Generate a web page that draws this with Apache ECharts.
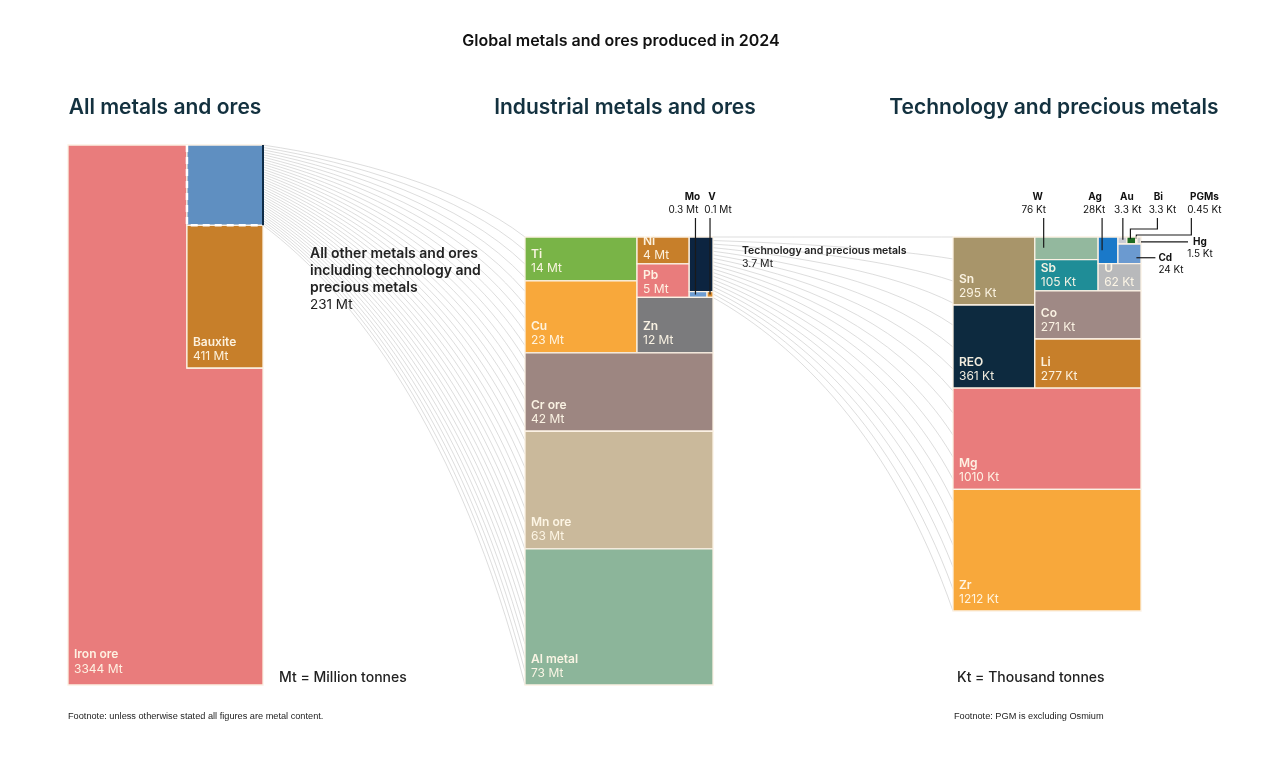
<!DOCTYPE html>
<html><head><meta charset="utf-8">
<script src="https://cdn.jsdelivr.net/npm/echarts/dist/echarts.min.js"></script>
<style>html,body{margin:0;background:#fff}#c{width:1263px;height:777px}</style>
</head><body><div id="c"></div>
<script>
// ---------------- DATA ----------------
const chartTitle = 'Global metals and ores produced in 2024';
const panelTitles = ['All metals and ores', 'Industrial metals and ores', 'Technology and precious metals'];

const allNames  = ['Iron ore', 'Bauxite', 'Other'];
const allValues = [3344, 411, 231];
const allUnit = 'Mt';

const indNames  = ['Ti', 'Cu', 'Ni', 'Pb', 'Zn', 'Cr ore', 'Mn ore', 'Al metal', 'Tech', 'Mo', 'V'];
const indValues = [14, 23, 4, 5, 12, 42, 63, 73, 3.7, 0.3, 0.1];
const indUnit = 'Mt';

const techNames  = ['Sn', 'REO', 'W', 'Sb', 'Ag', 'Au', 'Bi', 'PGMs', 'Hg', 'Cd', 'U', 'Co', 'Li', 'Mg', 'Zr'];
const techValues = [295, 361, 76, 105, 28, 3.3, 3.3, 0.45, 1.5, 24, 62, 271, 277, 1010, 1212];
const techUnit = 'Kt';

const otherLabel = ['All other metals and ores', 'including technology and', 'precious metals'];
const otherValueText = '231 Mt';
const techLabel = 'Technology and precious metals';
const techValueText = '3.7 Mt';
const unitNotes = ['Mt = Million tonnes', 'Kt = Thousand tonnes'];
const footnotes = ['Footnote: unless otherwise stated all figures are metal content.', 'Footnote: PGM is excluding Osmium'];

// ---------------- STYLE / LAYOUT ----------------
const FONT = 'Inter, "Noto Sans", sans-serif';
const colors = {
  'Iron ore':'#e97c7c', 'Bauxite':'#c77f2a', 'Other':'#5f8fc1',
  'Ti':'#79b447', 'Cu':'#f8a83b', 'Ni':'#c77f2a', 'Pb':'#e97c7c', 'Zn':'#7b7b7d',
  'Cr ore':'#9d8681', 'Mn ore':'#cab99b', 'Al metal':'#8cb59a', 'Tech':'#0c2440', 'Mo':'#6d9cd2', 'V':'#d98b2e',
  'Sn':'#a8956a', 'REO':'#0d2a3f', 'W':'#93b89e', 'Sb':'#1f8d97', 'Ag':'#1a79c9', 'Au':'#c9ccd4', 'Bi':'#1d6b22',
  'PGMs':'#dcc48a', 'Hg':'#d0d0d0', 'Cd':'#6b9ad0', 'U':'#b8b9bb', 'Co':'#9f8985', 'Li':'#c77f2a', 'Mg':'#e97c7c', 'Zr':'#f8a83b'
};
const noInnerLabel = new Set(['Other','Tech','Mo','V','W','Ag','Au','Bi','PGMs','Hg','Cd']);
const grids = [
  {left:68, top:145, width:195, height:540},
  {left:525, top:237, width:188, height:448},
  {left:953, top:237, width:188, height:374}
];
const layoutInd = {d:'v', c:[
  {d:'h', c:[ {d:'v', c:['Ti','Cu']},
              {d:'v', c:[ {d:'h', c:[ {d:'v', c:['Ni','Pb']}, {d:'v', c:['Tech', {d:'h', c:['Mo','V']}]} ]}, 'Zn' ]} ]},
  'Cr ore', 'Mn ore', 'Al metal']};
const layoutTech = {d:'v', c:[
  {d:'h', c:[ {d:'v', c:['Sn','REO']},
              {d:'v', c:[ {d:'h', c:[ {d:'v', c:['W','Sb']},
                                       {d:'v', c:[ {d:'h', c:['Ag', {d:'v', c:[ {d:'h', c:['Au','Bi','PGMs','Hg']}, 'Cd' ]} ]}, 'U' ]} ]},
                          'Co', 'Li' ]} ]},
  'Mg', 'Zr']};
const callouts = {
  'Mo':  {type:'up', fx:0.35, fy:0.5, nameDx:-3, valDx:-12},
  'V':   {type:'up', fx:0.5, fy:0.5, nameDx:2, valDx:8},
  'W':   {type:'up', fx:0.14, fy:0.48, nameDx:-6, valDx:-10},
  'Ag':  {type:'up', fx:0.2, fy:0.5, nameDx:-7, valDx:-8, noSpace:true},
  'Au':  {type:'up', fx:0.55, fy:0.4, nameDx:4, valDx:5},
  'Bi':  {type:'elbow', fx:0.4, fy:0.3, elbowDy:-8, lineDx:27, nameDx:1, valDx:5},
  'PGMs':{type:'elbow', fx:0.5, fy:0.3, elbowDy:-2, lineDx:55, nameDx:13, valDx:13},
  'Hg':  {type:'right', fx:1, fy:0.7, len:47, dx:12, align:'center'},
  'Cd':  {type:'right', fx:0.8, fy:0.7, len:19, dx:3, align:'left'}
};

// ---------------- LAYOUT ENGINE ----------------
function toMap(names, vals){ const m = {}; names.forEach((n,i)=>m[n]=vals[i]); return m; }
function sumNode(n, val){ return typeof n === 'string' ? val[n] : n.c.reduce((s,c)=>s+sumNode(c,val),0); }
function rectItem(name, value, unit, x0,y0,x1,y1){
  return {name, value, unit, box:[x0,y0,x1,y1], poly:[[x0,y0],[x1,y0],[x1,y1],[x0,y1]]};
}
function layoutNode(n, val, unit, x0,y0,x1,y1, out){
  if (typeof n === 'string'){ out.push(rectItem(n, val[n], unit, x0,y0,x1,y1)); return; }
  const tot = sumNode(n, val); let p = n.d === 'h' ? x0 : y0;
  n.c.forEach(c=>{
    const f = sumNode(c, val)/tot;
    if (n.d === 'h'){ const w = (x1-x0)*f; layoutNode(c,val,unit,p,y0,p+w,y1,out); p += w; }
    else { const h = (y1-y0)*f; layoutNode(c,val,unit,x0,p,x1,p+h,out); p += h; }
  });
}

// panel 1: iron ore is an L-shape, the right strip holds "other" and bauxite
const allVal = toMap(allNames, allValues);
const T0 = allValues.reduce((a,b)=>a+b,0);
const colW = 0.39;
const yO = allVal['Other']/(T0*colW);
const yB = yO + allVal['Bauxite']/(T0*colW);
const items0 = [
  {name:'Iron ore', value:allVal['Iron ore'], unit:allUnit, box:[0,0,1,1], poly:[[0,0],[1-colW,0],[1-colW,yB],[1,yB],[1,1],[0,1]]},
  rectItem('Bauxite', allVal['Bauxite'], allUnit, 1-colW, yO, 1, yB),
  rectItem('Other', allVal['Other'], allUnit, 1-colW, 0, 1, yO)
];
const items1 = []; layoutNode(layoutInd, toMap(indNames, indValues), indUnit, 0,0,1,1, items1);
const items2 = []; layoutNode(layoutTech, toMap(techNames, techValues), techUnit, 0,0,1,1, items2);
const panels = [items0, items1, items2];

// ---------------- RENDER ----------------
function makeRender(items, gridIdx){
  const gTop = grids[gridIdx].top;
  return function(params, api){
    const it = items[params.dataIndex];
    const pts = it.poly.map(p=>api.coord(p));
    const ch = [{type:'polygon', shape:{points:pts}, style:{fill:colors[it.name], stroke:'#fbf1e4', lineWidth:1.3}}];
    const tl = api.coord([it.box[0], it.box[1]]), br = api.coord([it.box[2], it.box[3]]);
    const w = br[0]-tl[0], h = br[1]-tl[1];
    if (it.name === 'Other'){
      ch.push({type:'polyline', shape:{points:[[tl[0],tl[1]],[tl[0],br[1]],[br[0],br[1]]]}, style:{stroke:'#ffffff', lineWidth:2.5, lineDash:[7,5], fill:null}});
      ch.push({type:'line', shape:{x1:br[0], y1:tl[1], x2:br[0], y2:br[1]}, style:{stroke:'#0d2a45', lineWidth:2}});
    }
    if (!noInnerLabel.has(it.name)){
      const tc = 'rgba(255,248,232,0.95)';
      const off = h > 300 ? [31,16] : (h > 40 ? [26,12] : [22,8]);
      ch.push({type:'text', style:{text:it.name, x:tl[0]+6, y:br[1]-off[0], font:'600 12px '+FONT, fill:tc, verticalAlign:'middle', align:'left'}});
      ch.push({type:'text', style:{text:it.value+' '+it.unit, x:tl[0]+6, y:br[1]-off[1], font:'400 12px '+FONT, fill:tc, verticalAlign:'middle', align:'left'}});
    }
    const co = callouts[it.name];
    if (co){
      const ax = tl[0]+w*co.fx, ay = tl[1]+h*co.fy;
      const lst = {stroke:'#1a1a1a', lineWidth:1.2, fill:null};
      const valTxt = it.value + (co.noSpace ? '' : ' ') + it.unit;
      if (co.type === 'up' || co.type === 'elbow'){
        let lx = ax, pts2;
        if (co.type === 'up') pts2 = [[ax,ay],[ax,gTop-19]];
        else { lx = ax+co.lineDx; pts2 = [[ax,ay],[ax,gTop+co.elbowDy],[lx,gTop+co.elbowDy],[lx,gTop-19]]; }
        ch.push({type:'polyline', shape:{points:pts2}, style:lst});
        ch.push({type:'text', style:{text:it.name, x:lx+co.nameDx, y:gTop-40, font:'700 10px '+FONT, fill:'#111', align:'center', verticalAlign:'middle'}});
        ch.push({type:'text', style:{text:valTxt, x:lx+co.valDx, y:gTop-27, font:'400 10px '+FONT, fill:'#111', align:'center', verticalAlign:'middle'}});
      } else {
        const ex = ax+co.len;
        ch.push({type:'line', shape:{x1:ax, y1:ay, x2:ex, y2:ay}, style:lst});
        ch.push({type:'text', style:{text:it.name, x:ex+co.dx, y:ay, font:'700 10px '+FONT, fill:'#111', align:co.align, verticalAlign:'middle'}});
        ch.push({type:'text', style:{text:valTxt, x:ex+co.dx, y:ay+12, font:'400 10px '+FONT, fill:'#111', align:co.align, verticalAlign:'middle'}});
      }
    }
    return {type:'group', children:ch};
  };
}

const chart = echarts.init(document.getElementById('c'), null, {renderer:'canvas'});
const option = {
  animation:false,
  backgroundColor:'#ffffff',
  grid: grids.map(g=>Object.assign({containLabel:false}, g)),
  xAxis: grids.map((g,i)=>({type:'value', gridIndex:i, min:0, max:1, show:false})),
  yAxis: grids.map((g,i)=>({type:'value', gridIndex:i, min:0, max:1, inverse:true, show:false})),
  series: panels.map((items,i)=>({
    type:'custom', xAxisIndex:i, yAxisIndex:i, z:5,
    renderItem: makeRender(items, i),
    data: items.map(it=>[it.box[0], it.box[1], it.box[2], it.box[3]])
  }))
};
chart.setOption(option);

// connectors and annotation text
function fan(g0, fx, fy0, fy1, g1, tx, ty0, ty1, n){
  const els = [];
  for (let i=0;i<n;i++){
    const t = i/(n-1);
    const s = chart.convertToPixel({gridIndex:g0}, [fx, fy0+(fy1-fy0)*t]);
    const e = chart.convertToPixel({gridIndex:g1}, [tx, ty0+(ty1-ty0)*t]);
    const dx = e[0]-s[0], dy = e[1]-s[1];
    els.push({type:'bezierCurve', silent:true, z:1,
      shape:{x1:s[0], y1:s[1], x2:e[0], y2:e[1], cpx1:s[0]+0.35*dx, cpy1:s[1]+0.15*dy, cpx2:s[0]+0.75*dx, cpy2:s[1]+0.45*dy},
      style:{stroke:'#c6c6c6', lineWidth:0.6, fill:null}});
  }
  return els;
}
const other = items0.find(d=>d.name==='Other');
const techB = items1.find(d=>d.name==='Tech'), vB = items1.find(d=>d.name==='V');
const txt = (text, x, y, font, fill, align) => ({type:'text', z:20, silent:true, x, y,
  style:{text, font, fill, align:align||'left', verticalAlign:'middle'}});
const graphics = [].concat(
  fan(0, other.box[2], other.box[1], other.box[3], 1, 0, 0, 1, 34),
  fan(1, techB.box[2], techB.box[1], vB.box[3], 2, 0, 0, 1, 18),
  [
    txt(chartTitle, 621, 41, '600 16px '+FONT, '#111', 'center'),
    txt(panelTitles[0], 165, 108, '600 21px '+FONT, '#13313f', 'center'),
    txt(panelTitles[1], 625, 108, '600 21px '+FONT, '#13313f', 'center'),
    txt(panelTitles[2], 1054, 108, '600 21px '+FONT, '#13313f', 'center'),
    txt(otherLabel[0], 310, 254, '600 14px '+FONT, '#222'),
    txt(otherLabel[1], 310, 271, '600 14px '+FONT, '#222'),
    txt(otherLabel[2], 310, 288, '600 14px '+FONT, '#222'),
    txt(otherValueText, 310, 305, '400 13.5px '+FONT, '#222'),
    txt(techLabel, 742, 251, '600 10.5px '+FONT, '#222'),
    txt(techValueText, 742, 264, '400 10.5px '+FONT, '#222'),
    txt(unitNotes[0], 279, 678, '500 14px '+FONT, '#222'),
    txt(unitNotes[1], 957, 678, '500 14px '+FONT, '#222'),
    txt(footnotes[0], 68, 716, '400 9.2px "Liberation Sans", Arial, sans-serif', '#222'),
    txt(footnotes[1], 954, 716, '400 9.2px "Liberation Sans", Arial, sans-serif', '#222')
  ]
);
chart.setOption({graphic: graphics});
</script></body></html>
